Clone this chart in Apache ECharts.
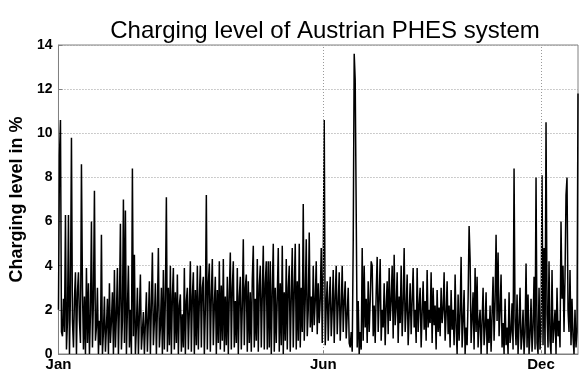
<!DOCTYPE html>
<html>
<head>
<meta charset="utf-8">
<script src="https://cdn.jsdelivr.net/npm/echarts@6/dist/echarts.min.js"></script>
<style>
  html, body { margin: 0; padding: 0; background: #fff; }
  #chart { width: 579px; height: 372px; }
</style>
</head>
<body>
<div id="chart"></div>
<script>
// charging level in %, samples over the year
const level = [
  2.0, 9.0, 10.6, 1.0, 0.8, 2.5, 1.0, 6.3, 0.2, 1.5,
  6.3, 0.0, 2.8, 9.8, 1.5, 0.3, 2.5, 3.7, 0.0, 2.8,
  3.7, 1.5, 0.5, 8.6, 3.0, 0.2, 2.6, 0.0, 3.9, 0.5,
  3.2, 0.0, 1.8, 6.0, 0.3, 2.5, 7.4, 0.6, 1.2, 3.0,
  0.0, 1.5, 0.4, 5.4, 0.0, 1.0, 2.6, 0.1, 1.2, 2.5,
  0.0, 3.2, 0.5, 1.5, 2.8, 0.0, 3.8, 0.3, 1.8, 3.9,
  0.0, 2.2, 5.9, 0.2, 1.5, 7.0, 0.5, 6.5, 0.0, 2.0,
  4.0, 0.3, 2.0, 0.0, 8.4, 0.8, 4.5, 0.0, 1.2, 3.0,
  0.0, 1.8, 3.6, 0.2, 1.0, 1.9, 0.0, 1.4, 2.8, 0.1,
  1.6, 3.3, 0.0, 2.2, 4.6, 0.4, 1.5, 3.2, 0.0, 2.0,
  4.8, 0.3, 1.2, 3.0, 0.0,
  // feb - may
  3.8, 0.2, 2.5, 7.1, 0.1, 3.0, 0.4, 4.0, 0.0, 2.6,
  3.9, 0.2, 2.8, 0.5, 3.6, 0.0, 2.2, 2.7, 0.1, 1.8,
  0.3, 3.9, 0.0, 2.4, 3.0, 0.2, 2.0, 4.2, 0.1, 2.6,
  3.7, 0.0, 2.9, 0.4, 4.0, 0.2, 2.5, 4.0, 0.3, 3.0,
  3.5, 0.0, 2.0, 7.2, 0.2, 3.2, 4.1, 0.1, 2.7, 4.3,
  0.4, 2.2, 3.5, 0.0, 2.9, 0.5, 4.2, 0.2, 3.1, 0.6,
  4.3, 0.1, 2.6, 0.4, 3.5, 0.0, 2.8, 4.6, 0.2, 3.0,
  4.2, 0.3, 2.4, 0.5, 3.9, 0.0, 2.6, 3.5, 0.2, 2.2,
  5.2, 0.4, 3.0, 3.6, 0.1, 3.3, 0.5, 2.8, 0.1, 3.4,
  4.9, 0.3, 2.5, 0.6, 4.3, 0.1, 3.1, 4.0, 0.3, 2.7,
  4.9, 0.2, 3.2, 4.2,
  // may - aug
  0.2, 4.2, 0.3, 4.2, 0.0, 2.9, 5.0, 0.1, 3.0, 0.5,
  2.6, 4.8, 0.1, 3.2, 0.4, 4.9, 0.0, 2.8, 0.6, 4.3,
  0.2, 3.0, 4.0, 0.1, 2.6, 4.8, 0.3, 2.9, 5.0, 0.2,
  3.3, 0.6, 5.0, 0.3, 3.0, 1.0, 6.8, 0.6, 2.5, 5.2,
  0.8, 2.0, 5.5, 1.2, 2.6, 1.0, 4.0, 1.3, 2.4, 4.2,
  0.9, 3.2, 1.4, 2.5, 4.8, 0.5, 4.0, 10.6, 0.4, 2.2,
  3.3, 0.6, 2.4, 3.5, 0.8, 2.0, 3.8, 0.5, 2.6, 4.0,
  0.9, 2.3, 3.7, 0.6, 2.1, 4.0, 1.0, 2.4, 3.3, 0.7,
  1.8, 3.0, 0.5, 0.3, 1.0, 0.1, 5.0, 13.6, 12.4, 6.5,
  0.3, 2.4, 0.0, 1.0, 0.2, 4.8, 0.6, 4.0, 1.2, 2.5,
  0.5, 3.3, 1.0, 2.4, 4.2,
  // aug - nov
  4.0, 0.8, 2.2, 0.5, 2.8, 4.4, 1.0, 2.5, 4.3, 0.6,
  2.0, 1.2, 3.2, 0.4, 2.2, 3.3, 0.9, 3.9, 1.5, 2.4,
  4.0, 0.7, 4.5, 1.3, 2.1, 3.7, 0.5, 2.6, 1.4, 4.0,
  0.8, 2.3, 4.8, 1.0, 2.0, 3.6, 0.4, 1.8, 3.2, 0.9,
  2.4, 3.9, 1.2, 2.0, 0.5, 3.9, 1.0, 2.2, 3.0, 0.3,
  1.9, 3.3, 1.1, 2.4, 0.6, 3.8, 1.2, 2.0, 1.4, 3.7,
  0.5, 3.0, 1.3, 2.2, 0.2, 2.9, 1.0, 2.1, 0.8, 3.0,
  1.4, 2.0, 3.7, 0.6, 1.8, 3.3, 0.9, 2.2, 0.3, 2.9,
  1.1, 2.0, 0.4, 3.6, 1.2, 0.0, 2.7, 0.6, 1.8, 4.4,
  0.3, 1.5, 2.9, 0.0, 1.2, 0.4, 2.5, 5.8, 4.3, 0.5,
  1.6,
  // nov - dec
  2.8, 0.2, 3.9, 1.0, 3.5, 0.3, 1.4, 2.0, 0.0, 1.5,
  3.0, 0.4, 1.2, 2.8, 0.0, 1.6, 0.5, 2.2, 0.1, 1.8,
  3.5, 0.6, 2.4, 5.4, 1.5, 4.6, 0.8, 2.0, 3.6, 0.3,
  1.4, 0.0, 2.5, 0.4, 1.2, 0.0, 2.8, 0.5, 1.0, 2.3,
  0.2, 8.4, 1.5, 0.4, 2.7, 0.0, 1.3, 3.0, 0.2, 0.8,
  2.0, 0.0, 1.0, 4.1, 0.3, 2.7, 0.0, 0.9, 2.5, 0.1,
  1.2, 3.5, 0.2, 8.0, 0.5, 0.0, 3.0, 0.2, 1.0, 8.1,
  0.4, 4.8, 0.0, 10.5, 1.8, 0.3, 4.2, 0.6, 0.0, 3.8,
  0.5, 1.2, 2.0, 0.0, 3.0, 0.8, 1.5, 0.3, 6.0, 2.5,
  4.0, 1.0, 3.5, 7.2, 8.0, 2.0, 1.0, 3.8, 0.4, 2.5,
  0.8, 0.0, 2.0, 0.3, 1.0, 11.8
];

const monthTicks = [0, 265, 483];
const monthNames = ['Jan', 'Jun', 'Dec'];
const yTicks = [0, 2, 4, 6, 8, 10, 12, 14];

const chart = echarts.init(document.getElementById('chart'), null, { renderer: 'canvas' });

const seriesData = level.map((v, i) => [i, v]);

chart.setOption({
  animation: false,
  backgroundColor: '#fff',
  textStyle: { fontFamily: 'Liberation Sans, Arial, sans-serif' },
  title: {
    text: 'Charging level of Austrian PHES system',
    left: 320,
    textAlign: 'center',
    top: 14,
    textStyle: { fontSize: 24, fontWeight: 'normal', color: '#000' }
  },
  grid: {
    left: 58, right: 1, top: 45, bottom: 17,
    show: true, borderColor: '#808080', borderWidth: 1
  },
  xAxis: {
    type: 'value',
    min: 0,
    max: level.length - 1,
    axisLine: { show: true, lineStyle: { color: '#808080' } },
    axisTick: { show: true, inside: true, length: 4, customValues: monthTicks, lineStyle: { color: '#808080' } },
    splitLine: { show: false },
    axisLabel: {
      customValues: monthTicks,
      formatter: v => monthNames[monthTicks.indexOf(v)],
      color: '#000', fontWeight: 'bold', fontSize: 15, margin: 3
    }
  },
  yAxis: {
    type: 'value',
    min: 0, max: 14, interval: 2,
    name: 'Charging level in %',
    nameLocation: 'middle',
    nameGap: 25,
    nameTextStyle: { fontSize: 18, fontWeight: 'bold', color: '#000' },
    axisLine: { show: true, lineStyle: { color: '#808080' } },
    axisTick: { show: true, inside: true, length: 4, lineStyle: { color: '#808080' } },
    axisLabel: {
      formatter: v => (yTicks.indexOf(v) >= 0 ? String(v) : ''),
      color: '#000', fontWeight: 'bold', fontSize: 14, margin: 6
    },
    splitLine: { show: true, lineStyle: { color: '#9a9a9a', type: [1, 2], width: 1 } }
  },
  series: [{
    type: 'line',
    data: seriesData,
    showSymbol: false,
    symbol: 'none',
    sampling: false,
    lineStyle: { color: '#000', width: 1.5 },
    markLine: {
      silent: true,
      symbol: 'none',
      label: { show: false },
      lineStyle: { color: '#9a9a9a', type: [1, 2], width: 1 },
      data: monthTicks.slice(1).map(x => ({ xAxis: x }))
    }
  }]
});
</script>
</body>
</html>
